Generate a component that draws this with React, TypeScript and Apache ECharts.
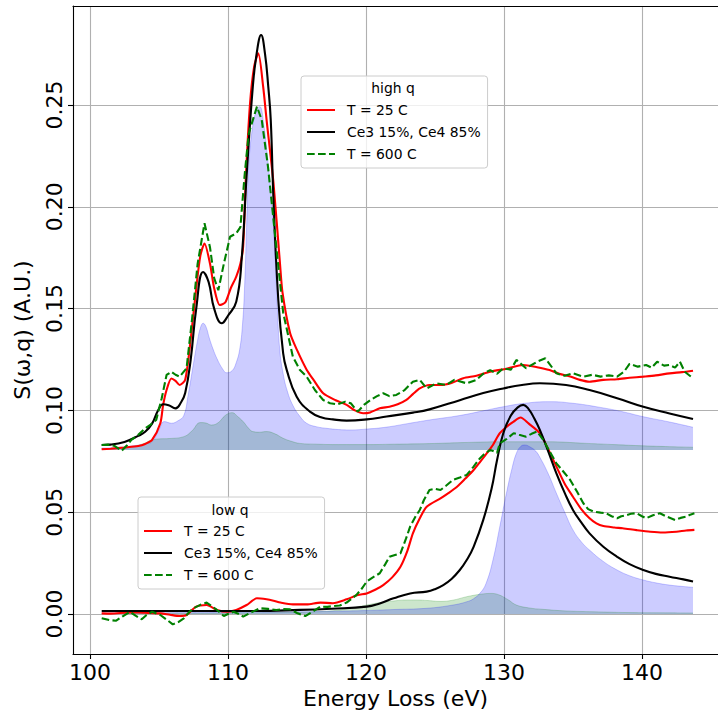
import React, { useEffect, useRef } from "react";
import * as echarts from "echarts";

type P = [number, number][];

const NAME_T25 = "T = 25 C";
const NAME_CE = "Ce3 15%, Ce4 85%";
const NAME_T600 = "T = 600 C";
const legendNames = [NAME_T25, NAME_CE, NAME_T600];

const xTicks = [100, 110, 120, 130, 140];
const yTicks = [0, 0.05, 0.1, 0.15, 0.2, 0.25];

const highBase = 0.0805;
const lowBase = 0;

// ---------- high q ----------
const highBlack: P = [
  [100.85, 0.083], [101.5, 0.0832], [102.5, 0.0845], [103.5, 0.0875], [104.0, 0.0895], [104.5, 0.0935],
  [104.95, 0.1002], [105.3, 0.103], [105.7, 0.1025], [106.2, 0.101], [106.6, 0.104], [106.9, 0.1085],
  [107.3, 0.125], [107.7, 0.15], [108.2, 0.168], [108.6, 0.163], [109.0, 0.15], [109.55, 0.1428],
  [110.0, 0.1465], [110.6, 0.1534], [111.0, 0.175], [111.35, 0.215], [111.8, 0.259], [112.08, 0.2754],
  [112.4, 0.2844], [112.68, 0.2754], [112.92, 0.259], [113.1, 0.2426], [113.3, 0.203], [113.65, 0.154],
  [114.0, 0.128], [114.25, 0.12], [114.98, 0.1067], [115.94, 0.0994], [116.8, 0.0965], [117.6, 0.0956],
  [118.6, 0.095], [120.05, 0.0956], [121.5, 0.097], [123.4, 0.0989], [124.6, 0.1005], [126.8, 0.105],
  [128.5, 0.1085], [129.95, 0.1108], [131.3, 0.1125], [132.6, 0.1133], [134.5, 0.1125], [136.2, 0.11],
  [138.2, 0.106], [140.1, 0.1018], [142.0, 0.0985], [143.7, 0.0958],
];

const highRed: P = [
  [100.85, 0.0809], [101.5, 0.0812], [102.5, 0.0818], [103.5, 0.0825], [104.0, 0.0835], [104.5, 0.0855],
  [105.1, 0.0937], [105.3, 0.1026], [105.55, 0.11], [105.9, 0.1157], [106.2, 0.1145], [106.5, 0.1125],
  [106.9, 0.115], [107.3, 0.135], [107.7, 0.16], [108.0, 0.176], [108.3, 0.182], [108.7, 0.172],
  [109.0, 0.16], [109.4, 0.1518], [109.8, 0.153], [110.2, 0.16], [110.6, 0.1657], [110.9, 0.172],
  [111.1, 0.1805], [111.3, 0.215], [111.6, 0.2508], [111.9, 0.269], [112.2, 0.2754], [112.55, 0.259],
  [112.8, 0.2426], [113.3, 0.2115], [113.77, 0.172], [113.95, 0.158], [114.5, 0.138], [115.0, 0.1297],
  [115.7, 0.12], [116.2, 0.115], [116.9, 0.1084], [117.8, 0.105], [118.6, 0.1027], [119.2, 0.1],
  [119.8, 0.0986], [120.3, 0.099], [121.0, 0.101], [121.7, 0.1018], [122.3, 0.103], [122.9, 0.105],
  [123.4, 0.108], [123.9, 0.1108], [124.6, 0.1125], [125.4, 0.1125], [126.2, 0.1135], [127.05, 0.1158],
  [128.0, 0.117], [129.0, 0.119], [130.2, 0.1205], [131.4, 0.1223], [132.4, 0.1212], [133.3, 0.1198],
  [134.0, 0.118], [134.8, 0.1166], [135.5, 0.115], [136.2, 0.1141], [137.2, 0.115], [138.2, 0.1153],
  [139.1, 0.116], [140.1, 0.1166], [141.0, 0.1172], [142.0, 0.1182], [142.9, 0.1188], [143.7, 0.1195],
];

const highGreen: P = [
  [100.85, 0.083], [101.3, 0.0832], [101.8, 0.0825], [102.3, 0.0802], [102.7, 0.083], [103.0, 0.0855],
  [103.5, 0.088], [104.0, 0.0912], [104.4, 0.093], [104.8, 0.0953], [105.2, 0.106], [105.55, 0.1174],
  [105.9, 0.119], [106.2, 0.1175], [106.5, 0.1166], [107.0, 0.1207], [107.4, 0.145], [107.8, 0.172],
  [108.3, 0.1919], [108.7, 0.18], [109.0, 0.165], [109.3, 0.159], [109.7, 0.172], [110.15, 0.1853],
  [110.6, 0.187], [110.9, 0.19], [111.2, 0.215], [111.5, 0.236], [111.8, 0.2426], [112.1, 0.2492],
  [112.45, 0.2426], [112.9, 0.2197], [113.4, 0.187], [114.0, 0.148], [114.7, 0.1264], [115.2, 0.12],
  [115.7, 0.1166], [116.3, 0.11], [116.9, 0.1051], [117.4, 0.1035], [117.9, 0.103], [118.5, 0.1043],
  [118.9, 0.1035], [119.4, 0.0994], [119.9, 0.103], [120.3, 0.105], [120.8, 0.107], [121.25, 0.1084],
  [121.7, 0.107], [122.2, 0.1076], [122.8, 0.11], [123.4, 0.1141], [123.9, 0.115], [124.4, 0.1108],
  [125.1, 0.1133], [125.8, 0.1125], [126.4, 0.115], [127.3, 0.1133], [128.0, 0.115], [128.5, 0.118],
  [129.0, 0.1198], [129.5, 0.118], [129.95, 0.1207], [130.5, 0.12], [130.9, 0.1248], [131.6, 0.1207],
  [132.4, 0.1239], [133.0, 0.1256], [133.8, 0.1182], [134.4, 0.117], [135.0, 0.1182], [135.75, 0.1166],
  [136.4, 0.1175], [137.0, 0.1166], [137.6, 0.1172], [138.2, 0.1166], [138.7, 0.119], [139.1, 0.1228],
  [139.7, 0.1215], [140.3, 0.1223], [140.7, 0.121], [141.1, 0.1239], [141.6, 0.122], [142.0, 0.1223],
  [142.4, 0.121], [142.75, 0.1239], [143.1, 0.119], [143.7, 0.1158],
];

const highFillBlue: P = [
  [100.85, 0.0815], [102.0, 0.0818], [103.0, 0.0825], [104.0, 0.0835], [104.5, 0.0846], [105.0, 0.0905],
  [105.4, 0.0945], [105.9, 0.0937], [106.4, 0.095], [106.8, 0.0975], [107.1, 0.107], [107.5, 0.123],
  [107.8, 0.1345], [108.0, 0.1405], [108.2, 0.1428], [108.4, 0.1412], [108.65, 0.1355], [108.9, 0.1305],
  [109.2, 0.1255], [109.6, 0.1205], [109.9, 0.1185], [110.3, 0.1195], [110.6, 0.1235], [110.85, 0.13],
  [111.05, 0.142], [111.2, 0.16], [111.35, 0.19], [111.5, 0.2197], [111.8, 0.24], [112.1, 0.248],
  [112.3, 0.2492], [112.6, 0.24], [112.9, 0.222], [113.2, 0.2], [113.4, 0.178], [113.55, 0.155],
  [113.75, 0.13], [114.0, 0.118], [114.3, 0.1095], [114.7, 0.1025], [115.2, 0.0972], [115.7, 0.0937],
  [116.4, 0.092], [117.15, 0.0912], [118.0, 0.0906], [118.8, 0.0904], [120.0, 0.0908], [121.5, 0.0918],
  [123.0, 0.0935], [124.6, 0.0953], [126.8, 0.0975], [128.5, 0.0998], [129.95, 0.1018], [131.5, 0.1035],
  [133.3, 0.1043], [135.0, 0.1035], [136.7, 0.1018], [138.5, 0.0995], [140.1, 0.0969], [142.0, 0.0943],
  [143.7, 0.0917],
];

const highFillGreen: P = [
  [100.85, 0.0812], [102.0, 0.0815], [103.0, 0.082], [104.0, 0.084], [104.35, 0.0852], [105.0, 0.086],
  [105.8, 0.0862], [106.8, 0.0871], [107.4, 0.09], [108.0, 0.094], [108.4, 0.0938], [108.8, 0.0928],
  [109.3, 0.094], [109.8, 0.0975], [110.3, 0.0989], [110.7, 0.097], [111.1, 0.0945], [111.5, 0.0912],
  [111.8, 0.0896], [112.3, 0.0893], [112.8, 0.0896], [113.4, 0.0885], [114.0, 0.0863], [114.6, 0.0848],
  [115.2, 0.0838], [116.5, 0.0834], [118.0, 0.0832], [120.0, 0.0832], [122.0, 0.0834], [124.6, 0.0837],
  [127.0, 0.0842], [129.95, 0.0846], [133.1, 0.0846], [136.0, 0.0838], [138.0, 0.0832], [140.1, 0.0826],
  [142.0, 0.0822], [143.7, 0.0819],
];

// ---------- low q ----------
const lowBlack: P = [
  [100.85, 0.0015], [103, 0.0015], [106, 0.0015], [109, 0.0015], [112, 0.0015], [115.2, 0.002],
  [117.5, 0.0026], [120.05, 0.0036], [121.0, 0.0052], [122.0, 0.0077], [123.2, 0.0101], [124.4, 0.011],
  [125.0, 0.0122], [125.6, 0.0142], [126.2, 0.0172], [126.8, 0.0216], [127.3, 0.0265], [127.8, 0.033],
  [128.5, 0.0462], [129.1, 0.0615], [129.5, 0.0756], [129.95, 0.0888], [130.5, 0.0975], [131.0, 0.1015],
  [131.4, 0.1027], [131.8, 0.1005], [132.2, 0.096], [132.6, 0.0904], [133.2, 0.08], [133.8, 0.0691],
  [134.4, 0.0595], [135.0, 0.0511], [135.6, 0.045], [136.2, 0.0396], [137.2, 0.033], [138.2, 0.0281],
  [139.1, 0.0245], [140.1, 0.0216], [141.0, 0.0197], [142.0, 0.0183], [143.0, 0.017], [143.7, 0.016],
];

const lowRed: P = [
  [100.85, 0.0003], [101.5, 0.0002], [102.65, 0.0007], [103.5, 0.0008], [104.3, 0.0005], [105.1, 0.0003],
  [105.8, -0.0004], [106.5, -0.001], [107.0, -0.0005], [107.7, 0.0036], [108.45, 0.0044], [109.2, 0.002],
  [109.9, 0.0011], [110.6, 0.002], [111.35, 0.0044], [112.1, 0.0077], [112.8, 0.0072], [113.3, 0.0065],
  [113.8, 0.0056], [114.7, 0.0047], [115.7, 0.0047], [116.7, 0.0056], [117.6, 0.0053], [118.6, 0.0072],
  [119.4, 0.0093], [120.05, 0.0101], [120.7, 0.012], [121.25, 0.0142], [121.9, 0.018], [122.5, 0.0232],
  [123.0, 0.031], [123.4, 0.0396], [123.9, 0.047], [124.4, 0.0527], [125.4, 0.0568], [126.0, 0.0595],
  [126.6, 0.0625], [127.2, 0.0665], [127.8, 0.0707], [128.3, 0.075], [128.75, 0.0789], [129.2, 0.083],
  [129.7, 0.0888], [130.2, 0.092], [130.7, 0.0945], [131.2, 0.0965], [131.8, 0.0935], [132.6, 0.0888],
  [133.2, 0.081], [133.8, 0.0724], [134.4, 0.064], [135.0, 0.0576], [135.6, 0.0515], [136.2, 0.047],
  [136.7, 0.0445], [137.2, 0.0432], [138.0, 0.0425], [138.6, 0.0421], [139.6, 0.0412], [140.6, 0.0404],
  [141.5, 0.04], [142.5, 0.0404], [143.2, 0.041], [143.8, 0.0413],
];

const lowGreen: P = [
  [100.85, -0.0021], [101.4, -0.003], [101.9, -0.0033], [102.4, -0.001], [102.9, 0.0011], [103.3, -0.0008],
  [103.75, -0.0026], [104.1, -0.0005], [104.5, 0.0011], [105.1, -0.0005], [105.6, -0.003], [106.0, -0.0051],
  [106.4, -0.004], [106.8, -0.0021], [107.2, 0.001], [107.5, 0.0028], [108.0, 0.0045], [108.45, 0.0056],
  [108.8, 0.004], [109.2, 0.002], [109.7, -0.001], [110.0, 0.0], [110.4, 0.0011], [110.8, 0.0],
  [111.1, -0.0013], [111.6, 0.0005], [112.3, 0.0028], [112.9, 0.0025], [113.5, 0.002], [114.0, 0.0024],
  [114.5, 0.0023], [115.0, 0.0005], [115.6, -0.001], [116.1, 0.001], [116.7, 0.0036], [117.2, 0.0035],
  [117.6, 0.0039], [118.1, 0.0042], [118.6, 0.0056], [119.3, 0.0093], [119.7, 0.0125], [120.05, 0.0159],
  [120.5, 0.018], [121.0, 0.02], [121.4, 0.0245], [121.7, 0.0281], [122.1, 0.029], [122.5, 0.0298],
  [122.9, 0.037], [123.2, 0.0429], [123.6, 0.048], [123.9, 0.0511], [124.2, 0.056], [124.6, 0.0609],
  [125.0, 0.0615], [125.4, 0.0609], [125.8, 0.063], [126.3, 0.0658], [126.8, 0.067], [127.3, 0.0683],
  [127.8, 0.0724], [128.2, 0.076], [128.5, 0.0781], [129.0, 0.0806], [129.5, 0.0792], [129.7, 0.0838],
  [130.2, 0.086], [130.7, 0.0888], [131.1, 0.088], [131.6, 0.0871], [132.0, 0.0885], [132.4, 0.0896],
  [132.85, 0.0855], [133.3, 0.08], [133.8, 0.074], [134.3, 0.07], [134.8, 0.0658], [135.3, 0.06],
  [135.75, 0.0544], [136.1, 0.0515], [136.5, 0.0503], [137.0, 0.0498], [137.4, 0.0495], [137.8, 0.048],
  [138.2, 0.047], [138.5, 0.048], [138.9, 0.0486], [139.2, 0.0492], [139.6, 0.0495], [140.0, 0.048],
  [140.3, 0.047], [140.8, 0.0485], [141.3, 0.0495], [141.8, 0.0478], [142.4, 0.0462], [142.8, 0.0472],
  [143.2, 0.0478], [143.5, 0.0488], [143.8, 0.0495],
];

const lowFillBlue: P = [
  [100.85, 0.0005], [105, 0.0006], [110, 0.0008], [115, 0.0011], [118, 0.0014], [120, 0.0017],
  [122, 0.0022], [124.4, 0.0028], [126.3, 0.0044], [127.3, 0.006], [127.8, 0.0075], [128.3, 0.0105],
  [128.7, 0.015], [129.2, 0.0265], [129.7, 0.043], [130.2, 0.06], [130.6, 0.072], [130.9, 0.0789],
  [131.2, 0.0822], [131.5, 0.083], [131.9, 0.082], [132.3, 0.08], [132.6, 0.077], [133.2, 0.069],
  [133.8, 0.0593], [134.4, 0.05], [135.0, 0.0413], [135.6, 0.0355], [136.2, 0.0314], [137.2, 0.0258],
  [138.2, 0.0216], [139.1, 0.0188], [140.1, 0.0167], [141.0, 0.0153], [142.0, 0.0142], [143.0, 0.0135],
  [143.7, 0.0131],
];

const lowFillGreen: P = [
  [100.85, 0.0003], [105, 0.0004], [110, 0.0005], [114, 0.0007], [116, 0.001], [117.6, 0.0016],
  [118.8, 0.0028], [120.05, 0.0044], [121.0, 0.0056], [122.0, 0.0064], [123.0, 0.0069], [123.7, 0.0069],
  [124.5, 0.0066], [125.4, 0.0062], [126.3, 0.0068], [127.3, 0.0085], [128.3, 0.0097], [129.0, 0.0101],
  [129.6, 0.0095], [130.3, 0.007], [130.9, 0.0044], [131.8, 0.003], [132.8, 0.0023], [134.5, 0.0015],
  [136.5, 0.0011], [139, 0.0007], [141, 0.0006], [143.7, 0.0005],
];

const RED = "#ff0000";
const BLACK = "#000000";
const GREEN = "#008000";
const BLUE_FILL = "rgba(0,0,255,0.2)";
const GREEN_FILL = "rgba(0,128,0,0.2)";
const FONT = "DejaVu Sans";

function fill(name: string, data: P, color: string, base: number): any {
  return {
    type: "line",
    name,
    data,
    symbol: "none",
    smooth: 0.45,
    lineStyle: { width: 1, color },
    areaStyle: { color, opacity: 1, origin: base },
    z: 1,
    silent: true,
  };
}

function line(name: string, data: P, color: string, dashed: boolean, smooth: number): any {
  return {
    type: "line",
    name,
    data,
    symbol: "none",
    showSymbol: false,
    smooth,
    lineStyle: { width: 2.1, color, type: dashed ? [7.7, 3.3] : "solid" },
    itemStyle: { color },
    z: 3,
    silent: true,
  };
}

function legendAt(left: number, top: number): any {
  return {
    data: legendNames,
    orient: "vertical",
    left,
    top,
    itemWidth: 28,
    itemHeight: 14,
    itemGap: 8,
    padding: [27, 7, 7, 5],
    backgroundColor: "rgba(255,255,255,0.8)",
    borderColor: "#cccccc",
    borderWidth: 1,
    borderRadius: 3,
    selectedMode: false,
    itemStyle: { color: "transparent", borderWidth: 0, opacity: 0 },
    textStyle: { fontFamily: FONT, fontSize: 13.9, color: "#000", padding: [0, 0, 0, 7] },
  };
}

export default function App() {
  const ref = useRef<HTMLDivElement>(null);
  useEffect(() => {
    if (!ref.current) return;
    const chart = echarts.init(ref.current, undefined, { renderer: "svg" });
    const xMin = 98.77;
    const xMax = 145.51;
    chart.setOption({
      animation: false,
      grid: { left: 73, top: 6, right: 0, bottom: 61, containLabel: false },
      legend: [legendAt(301, 76), legendAt(138, 497)],
      graphic: [
        {
          type: "text",
          x: 393,
          y: 88,
          z: 100,
          style: { text: "high q", fontFamily: FONT, fontSize: 13.9, fill: "#000", align: "center", verticalAlign: "middle" },
        },
        {
          type: "text",
          x: 230,
          y: 510,
          z: 100,
          style: { text: "low q", fontFamily: FONT, fontSize: 13.9, fill: "#000", align: "center", verticalAlign: "middle" },
        },
      ],
      xAxis: [
        {
          type: "value",
          min: xMin,
          max: xMax,
          splitNumber: 5,
          axisLine: { show: true, onZero: false, lineStyle: { color: "#000", width: 1.1 } },
          axisTick: { show: true, customValues: xTicks, length: 5, lineStyle: { color: "#000", width: 1.1 } },
          axisLabel: { customValues: xTicks, fontFamily: FONT, fontSize: 22, color: "#000", margin: 7 },
          splitLine: { show: true, lineStyle: { color: "#b0b0b0", width: 1.1 } },
          name: "Energy Loss (eV)",
          nameLocation: "middle",
          nameGap: 32,
          nameTextStyle: { fontFamily: FONT, fontSize: 22, color: "#000" },
        },
        {
          type: "value",
          position: "top",
          min: xMin,
          max: xMax,
          axisLine: { show: true, onZero: false, lineStyle: { color: "#000", width: 1.1 } },
          axisTick: { show: false },
          axisLabel: { show: false },
          splitLine: { show: false },
        },
      ],
      yAxis: {
        type: "value",
        min: -0.01965,
        max: 0.29863,
        splitNumber: 6,
        axisLine: { show: true, onZero: false, lineStyle: { color: "#000", width: 1.1 } },
        axisTick: { show: true, customValues: yTicks, length: 5, lineStyle: { color: "#000", width: 1.1 } },
        axisLabel: {
          customValues: yTicks,
          rotate: 90,
          fontFamily: FONT,
          fontSize: 22,
          color: "#000",
          margin: 8,
          formatter: (v: number) => v.toFixed(2),
        },
        splitLine: { show: true, lineStyle: { color: "#b0b0b0", width: 1.1 } },
        name: "S(ω,q) (A.U.)",
        nameLocation: "middle",
        nameGap: 40,
        nameTextStyle: { fontFamily: FONT, fontSize: 22, color: "#000" },
      },
      series: [
        fill("high q Ce3 component", highFillGreen, GREEN_FILL, highBase),
        fill("low q Ce3 component", lowFillGreen, GREEN_FILL, lowBase),
        fill("high q Ce4 component", highFillBlue, BLUE_FILL, highBase),
        fill("low q Ce4 component", lowFillBlue, BLUE_FILL, lowBase),
        line(NAME_T25, highRed, RED, false, 0.25),
        line(NAME_CE, highBlack, BLACK, false, 0.45),
        line(NAME_T600, highGreen, GREEN, true, 0),
        line(NAME_T25, lowRed, RED, false, 0.25),
        line(NAME_CE, lowBlack, BLACK, false, 0.45),
        line(NAME_T600, lowGreen, GREEN, true, 0),
      ],
    });
    return () => chart.dispose();
  }, []);
  return (
    <div
      ref={ref}
      style={{ position: "fixed", left: 0, top: 0, width: 718, height: 715, background: "#fff" }}
    />
  );
}
